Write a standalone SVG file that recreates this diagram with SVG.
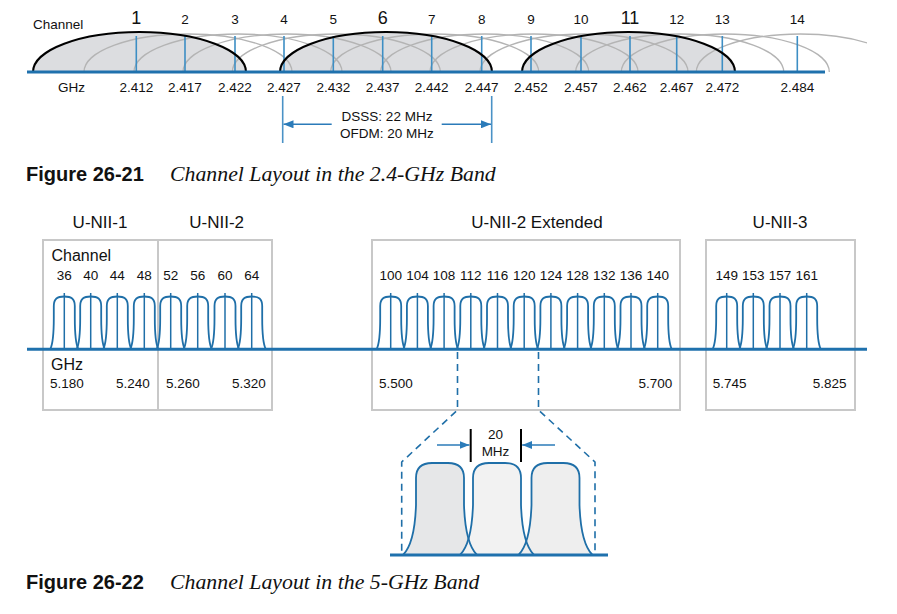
<svg xmlns="http://www.w3.org/2000/svg" xmlns:xlink="http://www.w3.org/1999/xlink" width="897" height="614" viewBox="0 0 897 614">
<style>
text{font-family:"Liberation Sans",Arial,sans-serif;fill:#111}
.sm{font-size:13.5px}
.mid{text-anchor:middle}
.big{font-size:18px}
.hdr{font-size:17px;text-anchor:middle}
.lbl16{font-size:16px}
.cap{font-family:"Liberation Sans",Arial,sans-serif;font-weight:bold;font-size:20px}
.capi{font-family:"Liberation Serif","Times New Roman",serif;font-style:italic;font-size:21.8px}
.garc{fill:none;stroke:#b4b4b4;stroke-width:1.3}
.dfill{fill:#dcdde0;stroke:none}
.darc{fill:none;stroke:#000;stroke-width:2}
.tick{stroke:#3d8ec4;stroke-width:1.6}
.base{stroke:#1f71ad;stroke-width:3}
.box{fill:none;stroke:#c8c8c8;stroke-width:2}
.pt{stroke:#1f6fa8;stroke-width:1.5}
.pl{fill:none;stroke:#1f6fa8;stroke-width:1.8}
.dash{fill:none;stroke:#1f6fa8;stroke-width:1.6;stroke-dasharray:7 5}
.arr{stroke:#2b7bb9;stroke-width:1.6;fill:none}
.vl{stroke:#4a92c6;stroke-width:1.6}
.blk{stroke:#000;stroke-width:2}
.big3{stroke:#1f6fa8;stroke-width:1.8}
</style>
<defs>
<clipPath id="clipTop"><rect x="0" y="0" width="867" height="80"/></clipPath>
<path id="pulse" d="M-14,349 C-11,343 -10.5,333 -10.5,318 L-10.5,306 C-10.5,298.5 -7,296.5 0,296.5 C7,296.5 10.5,298.5 10.5,306 L10.5,318 C10.5,333 11,343 14,349"/>
<path id="bigpulse" d="M-37,555 C-30,548 -25,535 -24,505 L-24,478 C-24,467 -18,463 -8,463 L8,463 C18,463 24,467 24,478 L24,505 C25,535 30,548 37,555"/>
<marker id="ah" viewBox="0 0 10 8" refX="10" refY="4" markerWidth="10" markerHeight="8" markerUnits="userSpaceOnUse" orient="auto">
<path d="M0,0 L10,4 L0,8 Z" fill="#2b7bb9"/>
</marker>
</defs>

<!-- Figure 26-21 -->
<g id="fig2421">
<g id="arcs-fill">
<path class="dfill" d="M33,72 A106.5,40 0 0 1 246,72 Z"/>
<path class="dfill" d="M280,72 A106,40 0 0 1 492,72 Z"/>
<path class="dfill" d="M522,72 A106.5,40 0 0 1 735,72 Z"/>
</g>
<g id="arcs-gray" clip-path="url(#clipTop)">
<path class="garc" d="M84,72 A104,38 0 0 1 292,72"/>
<path class="garc" d="M134,72 A104,38 0 0 1 342,72"/>
<path class="garc" d="M183,72 A104,38 0 0 1 391,72"/>
<path class="garc" d="M232.3,72 A104,38 0 0 1 440.3,72"/>
<path class="garc" d="M330.7,72 A104,38 0 0 1 538.7,72"/>
<path class="garc" d="M380.7,72 A104,38 0 0 1 588.7,72"/>
<path class="garc" d="M430,72 A104,38 0 0 1 638,72"/>
<path class="garc" d="M480,72 A104,38 0 0 1 688,72"/>
<path class="garc" d="M575.7,72 A104,38 0 0 1 783.7,72"/>
<path class="garc" d="M621.3,72 A104,38 0 0 1 829.3,72"/>
<path class="garc" d="M696.3,72 A104,38 0 0 1 904.3,72"/>
</g>
<g id="ticks24">
<line class="tick" x1="136.3" y1="36" x2="136.3" y2="72"/>
<line class="tick" x1="185" y1="36" x2="185" y2="72"/>
<line class="tick" x1="235" y1="36" x2="235" y2="72"/>
<line class="tick" x1="284" y1="36" x2="284" y2="72"/>
<line class="tick" x1="333.3" y1="36" x2="333.3" y2="72"/>
<line class="tick" x1="382.7" y1="36" x2="382.7" y2="72"/>
<line class="tick" x1="431.7" y1="36" x2="431.7" y2="72"/>
<line class="tick" x1="481.7" y1="36" x2="481.7" y2="72"/>
<line class="tick" x1="531" y1="36" x2="531" y2="72"/>
<line class="tick" x1="581" y1="36" x2="581" y2="72"/>
<line class="tick" x1="630" y1="36" x2="630" y2="72"/>
<line class="tick" x1="676.7" y1="36" x2="676.7" y2="72"/>
<line class="tick" x1="722.3" y1="36" x2="722.3" y2="72"/>
<line class="tick" x1="797.3" y1="36" x2="797.3" y2="72"/>
</g>
<g id="arcs-dark">
<path class="darc" d="M33,72 A106.5,40 0 0 1 246,72"/>
<path class="darc" d="M280,72 A106,40 0 0 1 492,72"/>
<path class="darc" d="M522,72 A106.5,40 0 0 1 735,72"/>
</g>
<line class="base" x1="27" y1="72" x2="825" y2="72"/>
<g id="labels24">
<text class="sm" x="33" y="29">Channel</text>
<text class="big mid" x="136.3" y="24">1</text>
<text class="sm mid" x="185" y="24">2</text>
<text class="sm mid" x="235" y="24">3</text>
<text class="sm mid" x="284" y="24">4</text>
<text class="sm mid" x="333.3" y="24">5</text>
<text class="big mid" x="382.7" y="24">6</text>
<text class="sm mid" x="431.7" y="24">7</text>
<text class="sm mid" x="481.7" y="24">8</text>
<text class="sm mid" x="531" y="24">9</text>
<text class="sm mid" x="581" y="24">10</text>
<text class="big mid" x="630" y="24">11</text>
<text class="sm mid" x="676.7" y="24">12</text>
<text class="sm mid" x="722.3" y="24">13</text>
<text class="sm mid" x="797.3" y="24">14</text>
<text class="sm mid" x="71.5" y="91.5">GHz</text>
<text class="sm mid" x="136.3" y="91.5">2.412</text>
<text class="sm mid" x="185" y="91.5">2.417</text>
<text class="sm mid" x="235" y="91.5">2.422</text>
<text class="sm mid" x="284" y="91.5">2.427</text>
<text class="sm mid" x="333.3" y="91.5">2.432</text>
<text class="sm mid" x="382.7" y="91.5">2.437</text>
<text class="sm mid" x="431.7" y="91.5">2.442</text>
<text class="sm mid" x="481.7" y="91.5">2.447</text>
<text class="sm mid" x="531" y="91.5">2.452</text>
<text class="sm mid" x="581" y="91.5">2.457</text>
<text class="sm mid" x="630" y="91.5">2.462</text>
<text class="sm mid" x="676.7" y="91.5">2.467</text>
<text class="sm mid" x="722.3" y="91.5">2.472</text>
<text class="sm mid" x="797.3" y="91.5">2.484</text>
</g>
<g id="width-label">
<line class="vl" x1="282.7" y1="96" x2="282.7" y2="143"/>
<line class="vl" x1="491.7" y1="96" x2="491.7" y2="143"/>
<text class="sm mid" x="387" y="121">DSSS: 22 MHz</text>
<text class="sm mid" x="387" y="138">OFDM: 20 MHz</text>
</g>
<text class="cap" x="26" y="181">Figure 26-21</text>
<text class="capi" x="170" y="181">Channel Layout in the 2.4-GHz Band</text>
</g>

<!-- Figure 26-22 -->
<g id="unii1">
<rect class="box" x="43" y="240" width="115" height="170"/>
<text class="hdr" x="100" y="228">U-NII-1</text>
<text class="lbl16" x="51.5" y="261">Channel</text>
<text class="lbl16" x="51" y="370">GHz</text>
<text class="sm" x="50" y="388">5.180</text>
<text class="sm" x="116" y="388">5.240</text>
</g>
<g id="unii2">
<rect class="box" x="158" y="240" width="114" height="170"/>
<text class="hdr" x="216.7" y="228">U-NII-2</text>
<text class="sm" x="166" y="388">5.260</text>
<text class="sm" x="232" y="388">5.320</text>
</g>
<g id="unii2e">
<rect class="box" x="372" y="240" width="308" height="170"/>
<text class="hdr" x="537" y="228">U-NII-2 Extended</text>
<text class="sm" x="379" y="388">5.500</text>
<text class="sm" x="638.5" y="388">5.700</text>
</g>
<g id="unii3">
<rect class="box" x="706" y="240" width="149" height="170"/>
<text class="hdr" x="780" y="228">U-NII-3</text>
<text class="sm" x="712.7" y="388">5.745</text>
<text class="sm" x="812.7" y="388">5.825</text>
</g>
<g id="pulses5">
<g class="pl">
<use xlink:href="#pulse" x="64.3"/><use xlink:href="#pulse" x="90.7"/><use xlink:href="#pulse" x="117.3"/><use xlink:href="#pulse" x="144.3"/>
<use xlink:href="#pulse" x="170.7"/><use xlink:href="#pulse" x="197.7"/><use xlink:href="#pulse" x="225"/><use xlink:href="#pulse" x="251.7"/>
<use xlink:href="#pulse" x="390.7"/><use xlink:href="#pulse" x="417.4"/><use xlink:href="#pulse" x="444.1"/><use xlink:href="#pulse" x="470.8"/>
<use xlink:href="#pulse" x="497.5"/><use xlink:href="#pulse" x="524.2"/><use xlink:href="#pulse" x="550.9"/><use xlink:href="#pulse" x="577.6"/>
<use xlink:href="#pulse" x="604.3"/><use xlink:href="#pulse" x="631"/><use xlink:href="#pulse" x="657.7"/>
<use xlink:href="#pulse" x="726.7"/><use xlink:href="#pulse" x="753.3"/><use xlink:href="#pulse" x="780"/><use xlink:href="#pulse" x="806.7"/>
</g>
<g class="pt">
<line x1="64.3" y1="293" x2="64.3" y2="349"/><line x1="90.7" y1="293" x2="90.7" y2="349"/><line x1="117.3" y1="293" x2="117.3" y2="349"/><line x1="144.3" y1="293" x2="144.3" y2="349"/>
<line x1="170.7" y1="293" x2="170.7" y2="349"/><line x1="197.7" y1="293" x2="197.7" y2="349"/><line x1="225" y1="293" x2="225" y2="349"/><line x1="251.7" y1="293" x2="251.7" y2="349"/>
<line x1="390.7" y1="293" x2="390.7" y2="349"/><line x1="417.4" y1="293" x2="417.4" y2="349"/><line x1="444.1" y1="293" x2="444.1" y2="349"/><line x1="470.8" y1="293" x2="470.8" y2="349"/>
<line x1="497.5" y1="293" x2="497.5" y2="349"/><line x1="524.2" y1="293" x2="524.2" y2="349"/><line x1="550.9" y1="293" x2="550.9" y2="349"/><line x1="577.6" y1="293" x2="577.6" y2="349"/>
<line x1="604.3" y1="293" x2="604.3" y2="349"/><line x1="631" y1="293" x2="631" y2="349"/><line x1="657.7" y1="293" x2="657.7" y2="349"/>
<line x1="726.7" y1="293" x2="726.7" y2="349"/><line x1="753.3" y1="293" x2="753.3" y2="349"/><line x1="780" y1="293" x2="780" y2="349"/><line x1="806.7" y1="293" x2="806.7" y2="349"/>
</g>
<g class="sm mid">
<text x="64.3" y="280">36</text><text x="90.7" y="280">40</text><text x="117.3" y="280">44</text><text x="144.3" y="280">48</text>
<text x="170.7" y="280">52</text><text x="197.7" y="280">56</text><text x="225" y="280">60</text><text x="251.7" y="280">64</text>
<text x="390.7" y="280">100</text><text x="417.4" y="280">104</text><text x="444.1" y="280">108</text><text x="470.8" y="280">112</text>
<text x="497.5" y="280">116</text><text x="524.2" y="280">120</text><text x="550.9" y="280">124</text><text x="577.6" y="280">128</text>
<text x="604.3" y="280">132</text><text x="631" y="280">136</text><text x="657.7" y="280">140</text>
<text x="726.7" y="280">149</text><text x="753.3" y="280">153</text><text x="780" y="280">157</text><text x="806.7" y="280">161</text>
</g>
</g>
<line class="base" x1="27" y1="349.3" x2="867" y2="349.3"/>

<g id="magnified">
<use xlink:href="#bigpulse" x="440" fill="#e6e7e8" stroke="none"/>
<use xlink:href="#bigpulse" x="497" fill="#f2f2f2" stroke="none"/>
<use xlink:href="#bigpulse" x="555.5" fill="#eeeeee" stroke="none"/>
<use xlink:href="#bigpulse" x="440" fill="none" class="big3"/>
<use xlink:href="#bigpulse" x="497" fill="none" class="big3"/>
<use xlink:href="#bigpulse" x="555.5" fill="none" class="big3"/>
<line class="base" x1="390" y1="555" x2="608" y2="555"/>
<line class="blk" x1="470.7" y1="429" x2="470.7" y2="462"/>
<line class="blk" x1="521" y1="429" x2="521" y2="462"/>
<text class="sm mid" x="495.5" y="438.5">20</text>
<text class="sm mid" x="495.5" y="455.5">MHz</text>
</g>

<g id="connectors">
<line class="arr" x1="331.7" y1="124.3" x2="283.5" y2="124.3" marker-end="url(#ah)"/>
<line class="arr" x1="441.7" y1="124.3" x2="491" y2="124.3" marker-end="url(#ah)"/>
<path class="dash" d="M457.5,352 L457.5,410 L401.7,462 L401.7,554"/>
<path class="dash" d="M538.5,352 L538.5,410 L595,462 L595,554"/>
<line class="arr" x1="437" y1="445" x2="469.5" y2="445" marker-end="url(#ah)"/>
<line class="arr" x1="555" y1="445" x2="522.2" y2="445" marker-end="url(#ah)"/>
</g>

<text class="cap" x="26" y="589">Figure 26-22</text>
<text class="capi" x="170" y="589">Channel Layout in the 5-GHz Band</text>
</svg>
